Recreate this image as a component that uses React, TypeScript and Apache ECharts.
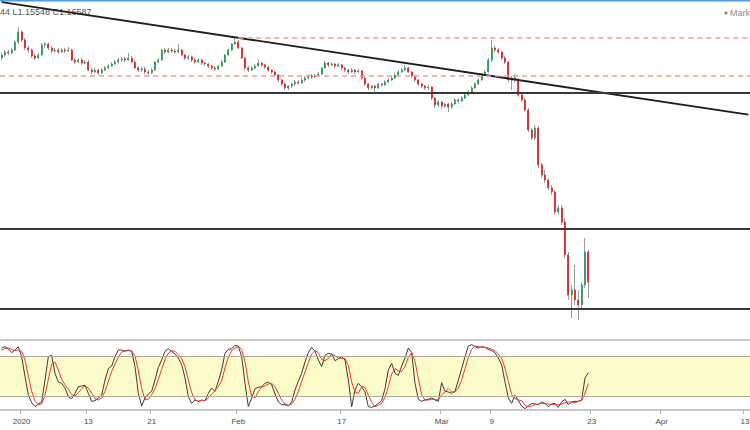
import { useEffect, useRef } from "react";
import * as echarts from "echarts";

// GBP/USD 8h candles: [open, close, low, high]
const candles: [number, number, number, number][] = [
  [1.3091, 1.3110, 1.3079, 1.3123], [1.3110, 1.3129, 1.3098, 1.3141], [1.3129, 1.3123, 1.3110, 1.3141], [1.3123, 1.3141, 1.3116, 1.3154], [1.3141, 1.3191, 1.3135, 1.3204],
  [1.3191, 1.3254, 1.3179, 1.3285], [1.3254, 1.3204, 1.3191, 1.3266], [1.3204, 1.3154, 1.3141, 1.3216], [1.3154, 1.3141, 1.3123, 1.3166], [1.3141, 1.3104, 1.3091, 1.3148],
  [1.3104, 1.3091, 1.3079, 1.3116], [1.3091, 1.3110, 1.3085, 1.3123], [1.3110, 1.3173, 1.3104, 1.3185], [1.3173, 1.3179, 1.3154, 1.3191], [1.3179, 1.3154, 1.3141, 1.3185],
  [1.3154, 1.3135, 1.3123, 1.3166], [1.3135, 1.3141, 1.3123, 1.3154], [1.3141, 1.3129, 1.3116, 1.3154], [1.3129, 1.3141, 1.3123, 1.3154], [1.3141, 1.3135, 1.3123, 1.3154],
  [1.3135, 1.3141, 1.3129, 1.3160], [1.3141, 1.3079, 1.3073, 1.3148], [1.3079, 1.3066, 1.3054, 1.3091], [1.3066, 1.3079, 1.3060, 1.3091], [1.3079, 1.3060, 1.3048, 1.3091],
  [1.3060, 1.3066, 1.3054, 1.3079], [1.3066, 1.3016, 1.3010, 1.3079], [1.3016, 1.3004, 1.2991, 1.3029], [1.3004, 1.3016, 1.2998, 1.3029], [1.3016, 1.2998, 1.2985, 1.3023],
  [1.2998, 1.3016, 1.2991, 1.3029], [1.3016, 1.3029, 1.3010, 1.3041], [1.3029, 1.3041, 1.3023, 1.3054], [1.3041, 1.3054, 1.3035, 1.3066], [1.3054, 1.3066, 1.3048, 1.3079],
  [1.3066, 1.3079, 1.3060, 1.3091], [1.3079, 1.3085, 1.3066, 1.3098], [1.3085, 1.3079, 1.3066, 1.3098], [1.3079, 1.3091, 1.3073, 1.3123], [1.3091, 1.3066, 1.3060, 1.3104],
  [1.3066, 1.3029, 1.3023, 1.3079], [1.3029, 1.3016, 1.3004, 1.3041], [1.3016, 1.3023, 1.3004, 1.3035], [1.3023, 1.3004, 1.2991, 1.3035], [1.3004, 1.2998, 1.2985, 1.3016],
  [1.2998, 1.3016, 1.2991, 1.3029], [1.3016, 1.3066, 1.3010, 1.3073], [1.3066, 1.3079, 1.3060, 1.3091], [1.3079, 1.3141, 1.3073, 1.3148], [1.3141, 1.3129, 1.3116, 1.3154],
  [1.3129, 1.3141, 1.3123, 1.3154], [1.3141, 1.3135, 1.3123, 1.3154], [1.3135, 1.3129, 1.3116, 1.3148], [1.3129, 1.3141, 1.3123, 1.3179], [1.3141, 1.3110, 1.3104, 1.3148],
  [1.3110, 1.3091, 1.3079, 1.3116], [1.3091, 1.3098, 1.3079, 1.3110], [1.3098, 1.3079, 1.3066, 1.3104], [1.3079, 1.3066, 1.3054, 1.3091], [1.3066, 1.3079, 1.3060, 1.3091],
  [1.3079, 1.3060, 1.3048, 1.3085], [1.3060, 1.3054, 1.3041, 1.3066], [1.3054, 1.3041, 1.3029, 1.3060], [1.3041, 1.3029, 1.3016, 1.3048], [1.3029, 1.3023, 1.3010, 1.3041],
  [1.3023, 1.3041, 1.3016, 1.3048], [1.3041, 1.3066, 1.3035, 1.3079], [1.3066, 1.3110, 1.3060, 1.3116], [1.3110, 1.3141, 1.3104, 1.3148], [1.3141, 1.3179, 1.3135, 1.3185],
  [1.3179, 1.3191, 1.3173, 1.3216], [1.3191, 1.3154, 1.3148, 1.3204], [1.3154, 1.3091, 1.3085, 1.3160], [1.3091, 1.3029, 1.3016, 1.3098], [1.3029, 1.3016, 1.3004, 1.3041],
  [1.3016, 1.3029, 1.3010, 1.3041], [1.3029, 1.3041, 1.3023, 1.3054], [1.3041, 1.3060, 1.3035, 1.3079], [1.3060, 1.3048, 1.3035, 1.3066], [1.3048, 1.3035, 1.3023, 1.3054],
  [1.3035, 1.3016, 1.3004, 1.3041], [1.3016, 1.3004, 1.2991, 1.3023], [1.3004, 1.2985, 1.2973, 1.3010], [1.2985, 1.2954, 1.2941, 1.2991], [1.2954, 1.2929, 1.2916, 1.2960],
  [1.2929, 1.2904, 1.2891, 1.2935], [1.2904, 1.2916, 1.2891, 1.2923], [1.2916, 1.2929, 1.2904, 1.2935], [1.2929, 1.2941, 1.2916, 1.2954], [1.2941, 1.2935, 1.2923, 1.2954],
  [1.2935, 1.2954, 1.2929, 1.2966], [1.2954, 1.2966, 1.2941, 1.2979], [1.2966, 1.2979, 1.2960, 1.2991], [1.2979, 1.2973, 1.2960, 1.2991], [1.2973, 1.2979, 1.2966, 1.2991],
  [1.2979, 1.2991, 1.2973, 1.3004], [1.2991, 1.3029, 1.2985, 1.3035], [1.3029, 1.3060, 1.3023, 1.3073], [1.3060, 1.3048, 1.3035, 1.3066], [1.3048, 1.3054, 1.3041, 1.3066],
  [1.3054, 1.3041, 1.3029, 1.3060], [1.3041, 1.3048, 1.3035, 1.3060], [1.3048, 1.3029, 1.3016, 1.3054], [1.3029, 1.3016, 1.3004, 1.3035], [1.3016, 1.3004, 1.2991, 1.3023],
  [1.3004, 1.3016, 1.2998, 1.3029], [1.3016, 1.3004, 1.2991, 1.3023], [1.3004, 1.3010, 1.2998, 1.3023], [1.3010, 1.2966, 1.2954, 1.3016], [1.2966, 1.2929, 1.2916, 1.2973],
  [1.2929, 1.2904, 1.2891, 1.2935], [1.2904, 1.2916, 1.2898, 1.2923], [1.2916, 1.2904, 1.2879, 1.2923], [1.2904, 1.2929, 1.2898, 1.2935], [1.2929, 1.2923, 1.2910, 1.2935],
  [1.2923, 1.2941, 1.2916, 1.2954], [1.2941, 1.2954, 1.2935, 1.2966], [1.2954, 1.2966, 1.2948, 1.2979], [1.2966, 1.2985, 1.2960, 1.2998], [1.2985, 1.3004, 1.2979, 1.3016],
  [1.3004, 1.3016, 1.2998, 1.3029], [1.3016, 1.3029, 1.3010, 1.3048], [1.3029, 1.3004, 1.2998, 1.3035], [1.3004, 1.2979, 1.2966, 1.3010], [1.2979, 1.2954, 1.2941, 1.2985],
  [1.2954, 1.2929, 1.2916, 1.2960], [1.2929, 1.2916, 1.2904, 1.2935], [1.2916, 1.2904, 1.2891, 1.2923], [1.2904, 1.2910, 1.2891, 1.2923], [1.2910, 1.2841, 1.2829, 1.2916],
  [1.2841, 1.2798, 1.2779, 1.2848], [1.2798, 1.2816, 1.2785, 1.2829], [1.2816, 1.2791, 1.2773, 1.2823], [1.2791, 1.2804, 1.2779, 1.2810], [1.2804, 1.2785, 1.2754, 1.2810],
  [1.2785, 1.2804, 1.2773, 1.2816], [1.2804, 1.2829, 1.2798, 1.2841], [1.2829, 1.2823, 1.2810, 1.2841], [1.2823, 1.2841, 1.2816, 1.2854], [1.2841, 1.2860, 1.2835, 1.2873],
  [1.2860, 1.2879, 1.2854, 1.2891], [1.2879, 1.2904, 1.2873, 1.2916], [1.2904, 1.2929, 1.2898, 1.2941], [1.2929, 1.2954, 1.2923, 1.2966], [1.2954, 1.2985, 1.2948, 1.2998],
  [1.2985, 1.3004, 1.2979, 1.3016], [1.3004, 1.3079, 1.2998, 1.3091], [1.3079, 1.3154, 1.3066, 1.3204], [1.3154, 1.3141, 1.3129, 1.3166], [1.3141, 1.3129, 1.3116, 1.3154],
  [1.3129, 1.3091, 1.3079, 1.3135], [1.3091, 1.3066, 1.3054, 1.3104], [1.3066, 1.2954, 1.2941, 1.3073], [1.2954, 1.2966, 1.2891, 1.2979], [1.2966, 1.2954, 1.2941, 1.2991],
  [1.2954, 1.2860, 1.2848, 1.2966], [1.2860, 1.2829, 1.2816, 1.2873], [1.2829, 1.2766, 1.2754, 1.2841], [1.2766, 1.2641, 1.2629, 1.2779], [1.2641, 1.2591, 1.2579, 1.2654],
  [1.2591, 1.2654, 1.2579, 1.2673], [1.2654, 1.2423, 1.2404, 1.2666], [1.2423, 1.2360, 1.2341, 1.2435], [1.2360, 1.2329, 1.2310, 1.2391], [1.2329, 1.2279, 1.2266, 1.2341],
  [1.2279, 1.2254, 1.2235, 1.2298], [1.2254, 1.2129, 1.2110, 1.2266], [1.2129, 1.2154, 1.2110, 1.2173], [1.2154, 1.2066, 1.2048, 1.2173], [1.2066, 1.1860, 1.1841, 1.2091],
  [1.1860, 1.1610, 1.1579, 1.1879], [1.1610, 1.1641, 1.1466, 1.1673], [1.1641, 1.1579, 1.1548, 1.1798], [1.1579, 1.1548, 1.1454, 1.1641], [1.1548, 1.1673, 1.1516, 1.1691],
  [1.1673, 1.1879, 1.1654, 1.1966], [1.1879, 1.1691, 1.1591, 1.1891],
];

// Stochastic %K and %D
const stochK = [
  93, 95, 92, 86, 90, 95, 80, 50, 23, 11,
  5, 9, 12, 45, 80, 82, 55, 42, 40, 33,
  20, 17, 25, 35, 36, 37, 25, 13, 14, 18,
  22, 45, 62, 66, 80, 90, 90, 88, 90, 88,
  65, 25, 6, 18, 24, 28, 45, 64, 75, 88,
  92, 88, 84, 78, 68, 48, 20, 10, 15, 13,
  15, 14, 25, 33, 28, 43, 60, 85, 91, 92,
  97, 96, 80, 40, 5, 18, 32, 34, 35, 40,
  42, 38, 24, 12, 8, 8, 6, 12, 30, 43,
  55, 72, 86, 94, 88, 75, 65, 82, 85, 84,
  74, 77, 80, 75, 45, 5, 30, 40, 35, 27,
  5, 4, 6, 10, 14, 32, 60, 70, 55, 52,
  66, 78, 93, 86, 40, 16, 13, 15, 16, 18,
  15, 13, 41, 28, 27, 25, 28, 45, 62, 80,
  96, 98, 95, 93, 95, 94, 91, 89, 86, 78,
  68, 42, 18, 10, 22, 14, 6, 2, 6, 10,
  9, 8, 12, 10, 5, 9, 10, 4, 12, 16,
  8, 12, 13, 13, 15, 48, 56,
];
const stochD = [
  90, 92, 93, 91, 89, 90, 88, 75, 51, 28,
  13, 8, 9, 22, 46, 69, 72, 60, 46, 38,
  31, 23, 21, 26, 32, 36, 33, 25, 17, 15,
  18, 28, 43, 58, 69, 79, 87, 89, 89, 89,
  81, 59, 32, 16, 16, 23, 32, 46, 61, 76,
  85, 89, 88, 83, 77, 65, 45, 26, 15, 13,
  14, 14, 18, 24, 29, 35, 44, 63, 79, 89,
  93, 95, 91, 72, 42, 21, 18, 28, 34, 36,
  39, 40, 35, 25, 15, 9, 7, 9, 16, 28,
  43, 57, 71, 84, 89, 86, 76, 74, 77, 84,
  81, 78, 77, 77, 67, 42, 27, 25, 35, 34,
  22, 12, 5, 7, 10, 19, 35, 54, 62, 59,
  58, 65, 79, 86, 73, 47, 23, 15, 15, 16,
  16, 15, 23, 27, 32, 27, 27, 33, 45, 62,
  79, 91, 96, 95, 94, 94, 93, 91, 89, 84,
  77, 63, 43, 23, 17, 15, 14, 7, 5, 6,
  8, 9, 10, 10, 9, 8, 8, 8, 9, 11,
  12, 12, 11, 13, 14, 25, 40,
];

// x-axis ticks (bar index -> label)
const tickIndex = [6, 26, 45, 71, 102, 132, 147, 177, 198, 223];
const tickText = ["2020", "13", "21", "Feb", "17", "Mar", "9", "23", "Apr", "13"];

// drawn levels
const solidLevels = [1.2873, 1.2023, 1.1522];
const dashedLevels = [1.2979];
const dashedRayStart = 71;
const dashedRayLevel = 1.3216;
const trendIdx = [0, 224];
const trendPrice = [1.3440, 1.2737];

const BAR_COUNT = 225;
const PRICE_MIN = 1.132875;
const PRICE_MAX = 1.344125;

export default function App() {
  const ref = useRef<HTMLDivElement>(null);
  useEffect(() => {
    document.body.style.margin = "0";
    if (!ref.current) return;
    const chart = echarts.init(ref.current, undefined, { renderer: "svg" });
    const cats = Array.from({ length: BAR_COUNT }, (_, i) => String(i));
    const labelMap = new Map<number, string>(tickIndex.map((k, i) => [k, tickText[i]]));
    const wickData = candles.map((c) => [c[0], c[1], c[2], c[3]]);
    const bodyData = candles.map((c) => [c[0], c[1], Math.min(c[0], c[1]), Math.max(c[0], c[1])]);
    const trendData = trendIdx.map((k, i) => [k, trendPrice[i]]);

    chart.setOption({
      animation: false,
      backgroundColor: "#ffffff",
      grid: [
        { left: 0, right: 0, top: 2, height: 338, containLabel: false, outerBoundsMode: "none" },
        { left: 0, right: 0, top: 340, height: 73.33, containLabel: false, outerBoundsMode: "none" },
      ],
      xAxis: [
        {
          type: "category", gridIndex: 0, data: cats, boundaryGap: true,
          axisLine: { show: true, lineStyle: { color: "#b4b4b4", width: 1.5 } },
          axisTick: { show: false }, axisLabel: { show: false }, splitLine: { show: false },
        },
        {
          type: "category", gridIndex: 1, data: cats, boundaryGap: true,
          axisLine: { show: true, lineStyle: { color: "#b4b4b4", width: 1.5 } },
          axisTick: { show: true, length: 4, interval: (i: number) => labelMap.has(i), lineStyle: { color: "#b4b4b4" } },
          axisLabel: {
            show: true, interval: (i: number) => labelMap.has(i),
            formatter: (_v: string, i: number) => labelMap.get(i) ?? "",
            color: "#4a4a4a", fontSize: 8, fontFamily: "Liberation Sans, Arial, sans-serif", margin: 4,
          },
          splitLine: { show: false },
        },
      ],
      yAxis: [
        { type: "value", gridIndex: 0, min: PRICE_MIN, max: PRICE_MAX, show: false, splitLine: { show: false } },
        { type: "value", gridIndex: 1, min: -5, max: 105, show: false, splitLine: { show: false } },
      ],
      series: [
        {
          type: "candlestick", name: "wick", xAxisIndex: 0, yAxisIndex: 0, data: wickData,
          barWidth: 0.3, silent: true,
          itemStyle: { color: "#9c9c9c", color0: "#9c9c9c", borderColor: "#9c9c9c", borderColor0: "#9c9c9c", borderWidth: 1 },
        },
        {
          type: "candlestick", name: "body", xAxisIndex: 0, yAxisIndex: 0, data: bodyData,
          barWidth: 1.6, silent: true,
          itemStyle: { color: "#2e9b57", color0: "#e0262a", borderColor: "#2e9b57", borderColor0: "#e0262a", borderWidth: 0.8 },
          markLine: {
            silent: true, symbol: "none", label: { show: false }, precision: 6,
            data: [
              ...solidLevels.map((v) => ({ yAxis: v, lineStyle: { color: "#3a3a3a", width: 1.8, type: "solid" } })),
              ...dashedLevels.map((v) => ({ yAxis: v, lineStyle: { color: "#f29a9a", width: 1.5, type: [5, 4] } })),
              [
                { coord: [dashedRayStart, dashedRayLevel], lineStyle: { color: "#f29a9a", width: 1.5, type: [5, 4] } },
                { coord: [BAR_COUNT - 1, dashedRayLevel] },
              ],
            ],
          },
        },
        {
          type: "line", name: "trend", xAxisIndex: 0, yAxisIndex: 0, data: trendData,
          showSymbol: false, silent: true, lineStyle: { color: "#1e1e1e", width: 1.8 },
        },
        {
          type: "line", name: "%K", xAxisIndex: 1, yAxisIndex: 1, data: stochK,
          showSymbol: false, silent: true, z: 3, lineStyle: { color: "#3a3a3a", width: 1 },
          markArea: { silent: true, itemStyle: { color: "#fcfcc8" }, data: [[{ yAxis: 20 }, { yAxis: 80 }]] },
          markLine: {
            silent: true, symbol: "none", label: { show: false },
            lineStyle: { color: "#aaaaa0", width: 1, type: "solid" },
            data: [{ yAxis: 20 }, { yAxis: 80 }],
          },
        },
        {
          type: "line", name: "%D", xAxisIndex: 1, yAxisIndex: 1, data: stochD,
          showSymbol: false, silent: true, z: 4, lineStyle: { color: "#f03a2e", width: 1 },
        },
      ],
      graphic: [
        { type: "rect", left: 0, top: 0, shape: { width: 750, height: 1.5 }, style: { fill: "#4a9fe8" }, silent: true },
        {
          type: "text", left: 0, top: 7,
          style: { text: "44 L1.15548 C1.16587", fill: "#555", fontSize: 9, fontFamily: "Liberation Sans, Arial, sans-serif" },
        },
        { type: "circle", shape: { cx: 726, cy: 13, r: 1.6 }, style: { fill: "#8a8a8a" }, silent: true },
        {
          type: "text", left: 730, top: 8,
          style: { text: "Mark", fill: "#8a8a8a", fontSize: 9, fontFamily: "Liberation Sans, Arial, sans-serif" },
        },
      ],
    });
    return () => chart.dispose();
  }, []);
  return <div ref={ref} style={{ width: 750, height: 430 }} />;
}
